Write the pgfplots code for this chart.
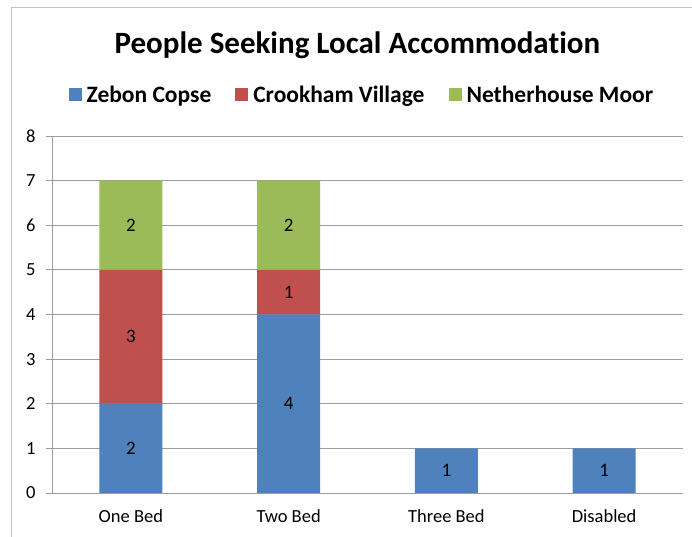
\documentclass[border=0pt]{standalone}
\usepackage{fontspec}
\setmainfont{Carlito}[Ligatures=NoCommon]
\usepackage{pgfplots}
\usepackage{pgfplotstable}
\pgfplotsset{compat=1.18}
\definecolor{zblue}{HTML}{4F81BD}
\definecolor{cred}{HTML}{C0504D}
\definecolor{ngreen}{HTML}{9BBB59}
\definecolor{gridgray}{HTML}{9C9C9C}
\definecolor{framegray}{HTML}{C4C4C4}
\pgfplotstableread{
x zebon crook nether
0 2 3 2
1 4 1 2
2 1 0 0
3 1 0 0
}\data
\pgfplotsset{
  sqlegend/.style={legend image code/.code={\fill[##1] (0pt,-6.5pt) rectangle (13pt,6.5pt);}},
  barlabels/.style={point meta=explicit,
    nodes near coords={\pgfmathfloatifflags{\pgfplotspointmeta}{0}{}{\pgfmathprintnumber{\pgfplotspointmeta}}},
    every node near coord/.append style={anchor=center, font=\fontsize{19}{22}\selectfont, text=black}},
}
\begin{document}
\begin{tikzpicture}
\path[use as bounding box] (0pt,0pt) rectangle (692pt,537pt);
\draw[framegray, line width=1pt] (11pt,0pt) -- (11pt,529pt) -- (692pt,529pt);
\begin{axis}[
  at={(52pt,44pt)}, anchor=south west,
  width=631pt, height=357pt, scale only axis,
  ybar stacked, bar width=63pt,
  xmin=-0.5, xmax=3.5, ymin=0, ymax=8,
  enlargelimits=false,
  axis lines*=left,
  axis line style={draw=gridgray, line width=0.8pt},
  ymajorgrids, grid style={draw=gridgray, line width=0.8pt},
  ytick={0,1,...,8},
  xtick={0,1,2,3},
  xticklabels={One Bed, Two Bed, Three Bed, Disabled},
  xtick style={draw=none},
  extra x ticks={-0.5,0.5,1.5,2.5,3.5},
  extra x tick labels={},
  extra x tick style={grid=none, tick style={draw=gridgray, line width=0.8pt}},
  tick align=outside,
  major tick length=6pt,
  ytick style={draw=gridgray, line width=0.8pt},
  tick label style={font=\fontsize{18.5}{22}\selectfont, text=black},
  /pgf/number format/assume math mode=true,
  xticklabel style={yshift=-7pt},
  yticklabel shift=7pt,
  title={People Seeking Local Accommodation},
  title style={at={(rel axis cs:0.484,1.215)}, anchor=base, font=\fontsize{31}{36}\selectfont\bfseries},
  legend columns=3,
  legend style={at={(rel axis cs:0.4935,1.115)}, anchor=center, draw=none, fill=none,
    font=\fontsize{23.5}{27}\selectfont\bfseries,
    /tikz/every even column/.append style={column sep=19pt},
    nodes={inner xsep=5pt}},
]
\addplot[fill=zblue, draw=none, sqlegend, barlabels] table[x=x,y=zebon,meta=zebon]{\data};
\addplot[fill=cred, draw=none, sqlegend, barlabels] table[x=x,y=crook,meta=crook]{\data};
\addplot[fill=ngreen, draw=none, sqlegend, barlabels] table[x=x,y=nether,meta=nether]{\data};
\legend{Zebon Copse, Crookham Village, Netherhouse Moor}
\end{axis}
\end{tikzpicture}
\end{document}
